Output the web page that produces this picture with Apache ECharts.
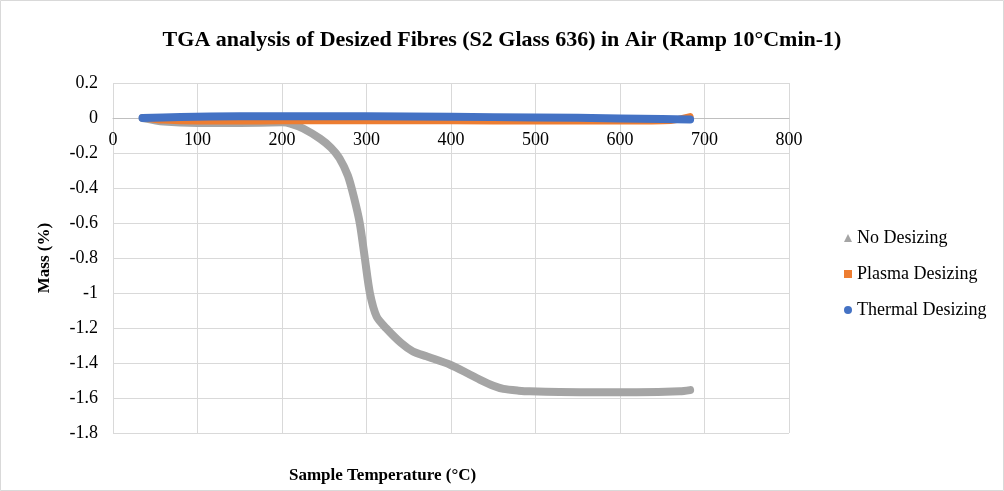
<!DOCTYPE html>
<html><head><meta charset="utf-8">
<script src="https://cdn.jsdelivr.net/npm/echarts@6/dist/echarts.min.js"></script>
<style>html,body{margin:0;padding:0;background:#fff}#c{width:1004px;height:491px}</style>
</head><body><div id="c"></div>
<script>
const titleText = 'TGA analysis of Desized Fibres (S2 Glass 636) in Air (Ramp 10°Cmin-1)';
const xName = 'Sample Temperature (°C)';
const yName = 'Mass (%)';
const seriesNames = ['No Desizing', 'Plasma Desizing', 'Thermal Desizing'];

const noTemp = [35, 60, 100, 150, 200, 210, 225, 245, 258, 268, 278, 285, 292, 298, 304, 312, 323, 341, 355, 371, 399, 420, 434, 450, 462, 480, 493, 553, 620, 671, 683];
const noMass = [0, -0.02, -0.028, -0.028, -0.025, -0.032, -0.06, -0.118, -0.17, -0.23, -0.33, -0.45, -0.6, -0.8, -1.0, -1.135, -1.2, -1.286, -1.334, -1.362, -1.41, -1.46, -1.495, -1.53, -1.548, -1.558, -1.562, -1.567, -1.567, -1.562, -1.555];

const plTemp = [35, 60, 100, 150, 200, 300, 400, 500, 600, 660, 683];
const plMass = [0, -0.012, -0.017, -0.017, -0.016, -0.016, -0.016, -0.017, -0.017, -0.014, 0.008];

const thTemp = [35, 80, 150, 250, 350, 450, 550, 650, 683];
const thMass = [0, 0.006, 0.01, 0.01, 0.009, 0.005, 0.001, -0.006, -0.008];

function pairs(t, m) { return t.map((v, i) => [v, m[i]]); }

const serif = 'Liberation Serif';
const chart = echarts.init(document.getElementById('c'));
chart.setOption({
  animation: false,
  backgroundColor: '#fff',
  title: {
    text: titleText, left: 'center', top: 24,
    textStyle: { fontFamily: serif, fontWeight: 'bold', fontSize: 22, color: '#000' }
  },
  legend: {
    orient: 'vertical', left: 839, top: 224, itemGap: 18,
    itemWidth: 8, itemHeight: 8,
    textStyle: { fontFamily: serif, fontSize: 18, color: '#000' },
    data: [
      { name: seriesNames[0], icon: 'triangle', itemStyle: { color: '#a5a5a5' } },
      { name: seriesNames[1], icon: 'rect', itemStyle: { color: '#ed7d31' } },
      { name: seriesNames[2], icon: 'circle', itemStyle: { color: '#4472c4' } }
    ]
  },
  grid: { left: 113, right: 215, top: 83, bottom: 58 },
  xAxis: {
    type: 'value', min: 0, max: 800, interval: 100,
    offset: -315,
    axisLine: { onZero: false, lineStyle: { color: '#bfbfbf' } },
    axisTick: { show: false },
    axisLabel: { fontFamily: serif, fontSize: 18, color: '#000', margin: 13 },
    splitLine: { show: true, lineStyle: { color: '#d9d9d9' } }
  },
  yAxis: {
    type: 'value', min: -1.8, max: 0.2, interval: 0.2,
    axisLine: { show: false },
    axisTick: { show: false },
    axisLabel: { fontFamily: serif, fontSize: 18, color: '#000', margin: 15,
      formatter: v => String(Math.round(v * 10) / 10) },
    splitLine: { show: true, lineStyle: { color: '#d9d9d9' } }
  },
  graphic: [
    { type: 'rect', shape: { x: 0.5, y: 0.5, width: 1003, height: 490 },
      style: { fill: 'none', stroke: '#d9d9d9', lineWidth: 1 }, silent: true },
    { type: 'text', left: 289, top: 467,
      style: { text: xName, font: 'bold 17px "Liberation Serif"', fill: '#000' } },
    { type: 'text', x: 45, y: 258, rotation: Math.PI / 2,
      style: { text: yName, font: 'bold 17px "Liberation Serif"', fill: '#000', align: 'center', verticalAlign: 'middle' } }
  ],
  series: [
    { name: seriesNames[0], type: 'line', data: pairs(noTemp, noMass), smooth: 0.25,
      showSymbol: false, z: 2, itemStyle: { color: '#a5a5a5' },
      lineStyle: { color: '#a5a5a5', width: 8, cap: 'round', join: 'round' } },
    { name: seriesNames[1], type: 'line', data: pairs(plTemp, plMass), smooth: 0.25,
      showSymbol: false, z: 3, itemStyle: { color: '#ed7d31' },
      lineStyle: { color: '#ed7d31', width: 7, cap: 'round', join: 'round' } },
    { name: seriesNames[2], type: 'line', data: pairs(thTemp, thMass), smooth: 0.25,
      showSymbol: false, z: 4, itemStyle: { color: '#4472c4' },
      lineStyle: { color: '#4472c4', width: 8, cap: 'round', join: 'round' } }
  ]
});
</script></body></html>
